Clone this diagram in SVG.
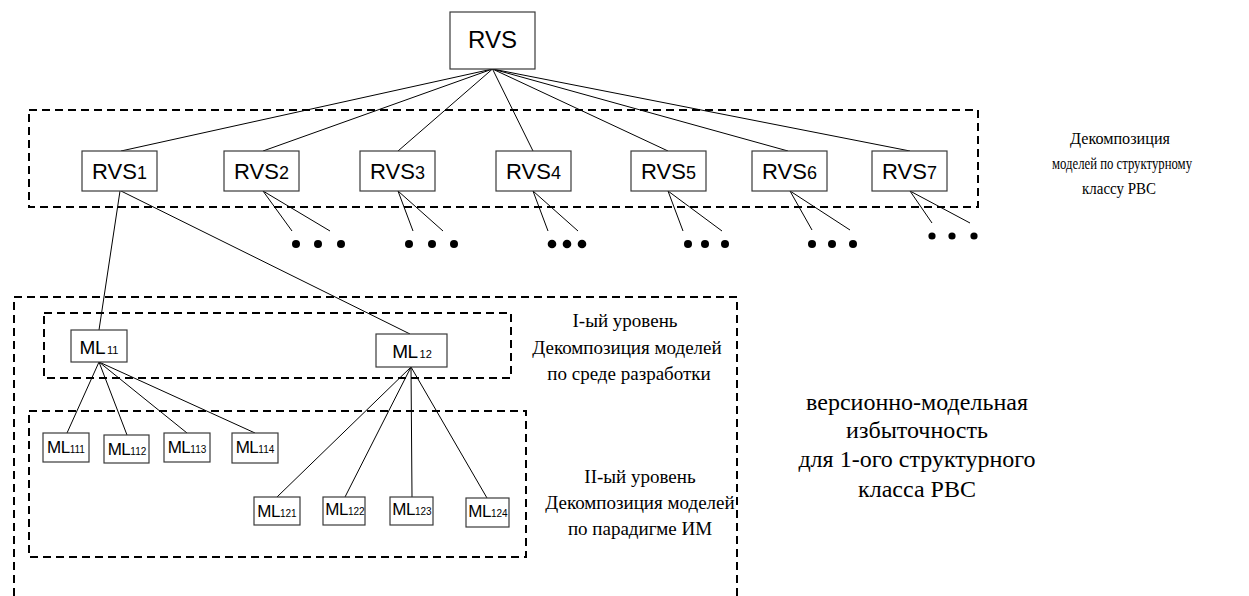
<svg xmlns="http://www.w3.org/2000/svg" width="1249" height="596" viewBox="0 0 1249 596">
<style>
.bg{fill:#ffffff}
.box{fill:#ffffff;stroke:#3a3a3a;stroke-width:1.2}
.dash{fill:none;stroke:#000;stroke-width:2;stroke-dasharray:8 5}
.ln{stroke:#000;stroke-width:1;fill:none}
.dot{fill:#000}
.sans{font-family:"Liberation Sans",Arial,sans-serif;fill:#000}
.serif{font-family:"Liberation Serif","Times New Roman",serif;fill:#000;text-anchor:middle}
.rv{font-size:22px;text-anchor:middle}
.rs{font-size:18px}
.ml{font-size:19px;text-anchor:middle;letter-spacing:-0.5px}
.mls{font-size:11px;letter-spacing:0}
.m3{font-size:17px;text-anchor:middle;letter-spacing:-0.5px}
.m3s{font-size:10px;letter-spacing:0}
</style>
<rect class="bg" x="0" y="0" width="1249" height="596"/>

<g id="groups">
  <rect class="dash" x="29" y="110" width="949" height="97"/>
  <path class="dash" d="M14,596 V297 H737 V596"/>
  <rect class="dash" x="44" y="313" width="467" height="65"/>
  <rect class="dash" x="29" y="411" width="497" height="146"/>
</g>

<g id="connectors">
  <line class="ln" x1="492.5" y1="69" x2="121" y2="151"/>
  <line class="ln" x1="492.5" y1="69" x2="263" y2="151"/>
  <line class="ln" x1="492.5" y1="69" x2="398" y2="151"/>
  <line class="ln" x1="492.5" y1="69" x2="533" y2="151"/>
  <line class="ln" x1="492.5" y1="69" x2="668" y2="151"/>
  <line class="ln" x1="492.5" y1="69" x2="788" y2="151"/>
  <line class="ln" x1="492.5" y1="69" x2="910" y2="151"/>

  <line class="ln" x1="263" y1="191" x2="292" y2="231"/>
  <line class="ln" x1="263" y1="191" x2="330" y2="231"/>
  <line class="ln" x1="398" y1="191" x2="413" y2="231"/>
  <line class="ln" x1="398" y1="191" x2="443" y2="231"/>
  <line class="ln" x1="533" y1="191" x2="548" y2="231"/>
  <line class="ln" x1="533" y1="191" x2="578" y2="231"/>
  <line class="ln" x1="668" y1="191" x2="683" y2="231"/>
  <line class="ln" x1="668" y1="191" x2="722" y2="231"/>
  <line class="ln" x1="790" y1="191" x2="812" y2="230"/>
  <line class="ln" x1="790" y1="191" x2="850" y2="230"/>
  <line class="ln" x1="910" y1="191" x2="932" y2="223"/>
  <line class="ln" x1="910" y1="191" x2="970" y2="223"/>

  <line class="ln" x1="120" y1="191" x2="99" y2="330"/>
  <line class="ln" x1="121" y1="191" x2="410" y2="334"/>

  <line class="ln" x1="99" y1="362" x2="67" y2="433"/>
  <line class="ln" x1="99" y1="362" x2="127" y2="435"/>
  <line class="ln" x1="99" y1="362" x2="187" y2="433"/>
  <line class="ln" x1="99" y1="362" x2="255" y2="433"/>

  <line class="ln" x1="411" y1="367" x2="277" y2="497"/>
  <line class="ln" x1="411" y1="367" x2="345" y2="497"/>
  <line class="ln" x1="411" y1="367" x2="412" y2="497"/>
  <line class="ln" x1="411" y1="367" x2="487" y2="498"/>
</g>

<g id="dots">
  <circle class="dot" cx="296" cy="244" r="4"/><circle class="dot" cx="318" cy="244" r="4"/><circle class="dot" cx="341" cy="244" r="4"/>
  <circle class="dot" cx="409" cy="244" r="4"/><circle class="dot" cx="432" cy="244" r="4"/><circle class="dot" cx="454" cy="244" r="4"/>
  <circle class="dot" cx="552" cy="244" r="4.3"/><circle class="dot" cx="567" cy="244" r="4.3"/><circle class="dot" cx="582" cy="244" r="4.3"/>
  <circle class="dot" cx="688" cy="244" r="4"/><circle class="dot" cx="705" cy="244" r="4"/><circle class="dot" cx="725" cy="244" r="4"/>
  <circle class="dot" cx="812" cy="244" r="4"/><circle class="dot" cx="832" cy="244" r="4"/><circle class="dot" cx="853" cy="244" r="4"/>
  <circle class="dot" cx="932" cy="236" r="3.6"/><circle class="dot" cx="952" cy="236" r="3.6"/><circle class="dot" cx="974" cy="236" r="3.6"/>
</g>

<g id="RVS">
  <rect class="box" x="450" y="12" width="85" height="57"/>
  <text class="sans" x="492.5" y="48" font-size="24" text-anchor="middle">RVS</text>
</g>
<g id="RVS1"><rect class="box" x="82" y="151" width="75" height="40"/><text class="sans rv" x="119.5" y="179">RVS<tspan class="rs">1</tspan></text></g>
<g id="RVS2"><rect class="box" x="224" y="151" width="75" height="40"/><text class="sans rv" x="261.5" y="179">RVS<tspan class="rs">2</tspan></text></g>
<g id="RVS3"><rect class="box" x="360" y="151" width="75" height="40"/><text class="sans rv" x="397.5" y="179">RVS<tspan class="rs">3</tspan></text></g>
<g id="RVS4"><rect class="box" x="496" y="151" width="75" height="40"/><text class="sans rv" x="533.5" y="179">RVS<tspan class="rs">4</tspan></text></g>
<g id="RVS5"><rect class="box" x="631" y="151" width="75" height="40"/><text class="sans rv" x="668.5" y="179">RVS<tspan class="rs">5</tspan></text></g>
<g id="RVS6"><rect class="box" x="752" y="151" width="75" height="40"/><text class="sans rv" x="789.5" y="179">RVS<tspan class="rs">6</tspan></text></g>
<g id="RVS7"><rect class="box" x="872" y="151" width="75" height="40"/><text class="sans rv" x="909.5" y="179">RVS<tspan class="rs">7</tspan></text></g>

<g id="ML11"><rect class="box" x="71" y="330" width="56" height="32"/><text class="sans ml" x="99" y="354">ML<tspan class="mls" dx="2">11</tspan></text></g>
<g id="ML12"><rect class="box" x="376" y="334" width="71" height="33"/><text class="sans ml" x="412" y="358">ML<tspan class="mls" dx="2">12</tspan></text></g>

<g id="ML111"><rect class="box" x="43" y="433" width="46" height="29"/><text class="sans m3" x="66" y="453">ML<tspan class="m3s">111</tspan></text></g>
<g id="ML112"><rect class="box" x="104" y="435" width="45" height="28"/><text class="sans m3" x="127" y="455">ML<tspan class="m3s">112</tspan></text></g>
<g id="ML113"><rect class="box" x="164" y="433" width="46" height="29"/><text class="sans m3" x="187" y="453">ML<tspan class="m3s">113</tspan></text></g>
<g id="ML114"><rect class="box" x="232" y="433" width="46" height="30"/><text class="sans m3" x="255" y="453">ML<tspan class="m3s">114</tspan></text></g>

<g id="ML121"><rect class="box" x="254" y="497" width="46" height="28"/><text class="sans m3" x="277" y="517">ML<tspan class="m3s">121</tspan></text></g>
<g id="ML122"><rect class="box" x="323" y="497" width="42" height="28"/><text class="sans m3" x="345" y="515">ML<tspan class="m3s">122</tspan></text></g>
<g id="ML123"><rect class="box" x="390" y="497" width="43" height="28"/><text class="sans m3" x="412" y="515">ML<tspan class="m3s">123</tspan></text></g>
<g id="ML124"><rect class="box" x="466" y="498" width="43" height="29"/><text class="sans m3" x="488" y="517">ML<tspan class="m3s">124</tspan></text></g>

<g id="label-top" class="serif" font-size="17">
  <text x="1120" y="144" textLength="100" lengthAdjust="spacingAndGlyphs">Декомпозиция</text>
  <text x="1122" y="169" textLength="140" lengthAdjust="spacingAndGlyphs">моделей по структурному</text>
  <text x="1119" y="194" textLength="74" lengthAdjust="spacingAndGlyphs">классу РВС</text>
</g>

<g id="label-level1" class="serif" font-size="19">
  <text x="625" y="327">I-ый уровень</text>
  <text x="627" y="354">Декомпозиция моделей</text>
  <text x="629" y="380">по среде разработки</text>
</g>

<g id="label-level2" class="serif" font-size="19">
  <text x="640" y="483">II-ый уровень</text>
  <text x="640" y="509">Декомпозиция моделей</text>
  <text x="640" y="535">по парадигме ИМ</text>
</g>

<g id="label-redundancy" class="serif" font-size="24">
  <text x="917" y="410">версионно-модельная</text>
  <text x="917" y="438">избыточность</text>
  <text x="917" y="467">для 1-ого структурного</text>
  <text x="917" y="497">класса РВС</text>
</g>
</svg>
